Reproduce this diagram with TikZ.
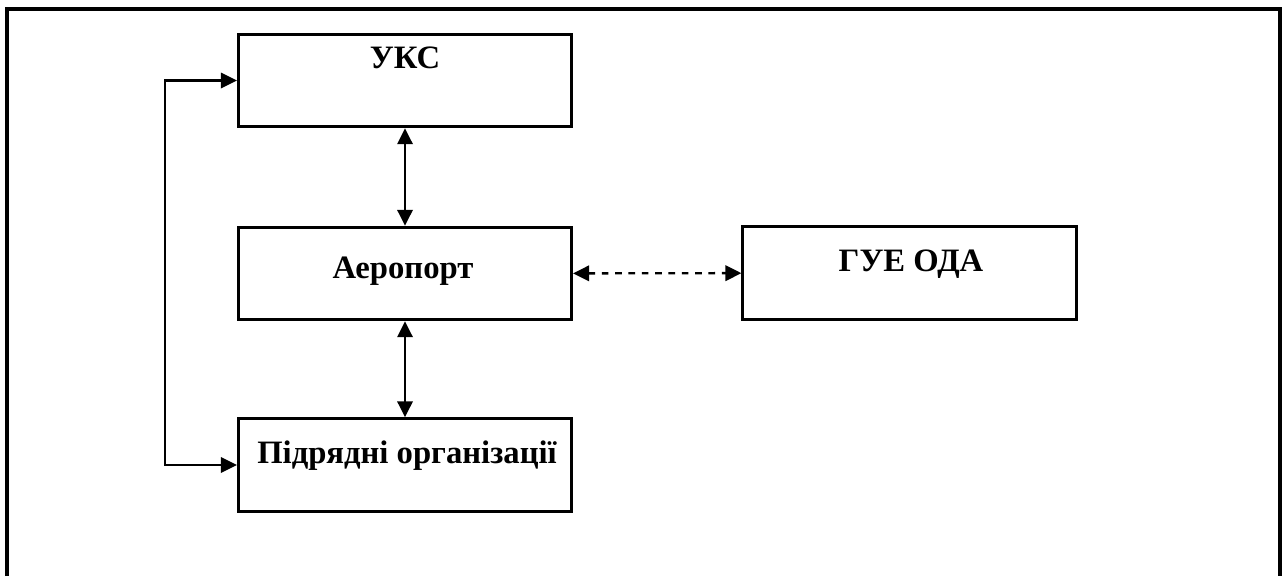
\documentclass[tikz,border=0pt]{standalone}
\usepackage{fontspec}
\setmainfont{Liberation Serif}
\usetikzlibrary{arrows.meta}

\begin{document}
\begin{tikzpicture}[x=0.75pt,y=-0.75pt]
\useasboundingbox (0,0) rectangle (1285,576);
% outer frame, open at the bottom
\draw[line width=2.6pt] (7,576) -- (7,9) -- (1280,9) -- (1280,576);

\begin{scope}[every node/.style={draw,line width=2.1pt,minimum width=250pt,minimum height=69.5pt,inner sep=0pt}]
\node (uks)  at (405,80.5)  {};
\node (aero) at (405,273.5) {};
\node (pidr) at (405,465)   {};
\node (gue)  at (909.5,273) {};
\end{scope}

\begin{scope}[every node/.style={anchor=base,inner sep=0pt,font=\fontsize{24.5}{28}\selectfont\bfseries}]
\node (uksL)  at (405,68)   {УКС};
\node (aeroL) at (403,278)  {Аеропорт};
\node (pidrL) at (407,463)  {Підрядні організації};
\node (gueL)  at (911,271)  {ГУЕ ОДА};
\end{scope}

\begin{scope}[>={Triangle[length=12pt,width=11.5pt]},line width=1.8pt]
\draw [<->] (uks) -- (aero);
\draw [<->] (aero) -- (pidr);
\draw [<->,dash pattern=on 5pt off 5pt] (aero) -- (gue);
\draw [<->] (uks.west) -- (165,80.5) -- (165,465) -- (pidr.west);
\end{scope}
\end{tikzpicture}
\end{document}
